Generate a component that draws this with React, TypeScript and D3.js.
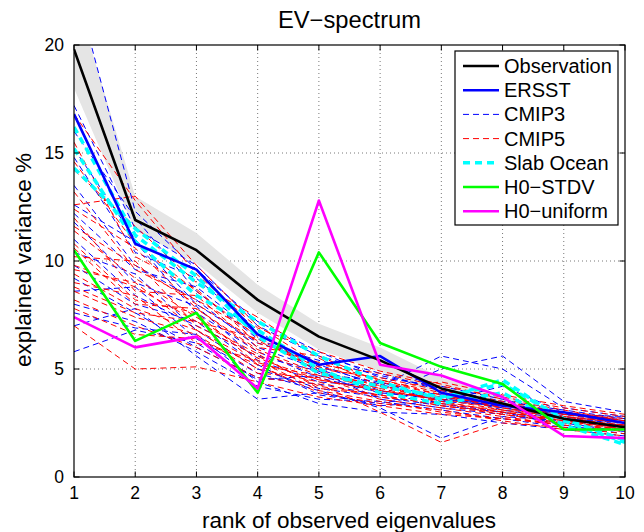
import * as d3 from 'd3';

// rank axis
const ranks = [1, 2, 3, 4, 5, 6, 7, 8, 9, 10];
const yTicks = [0, 5, 10, 15, 20];

const observation = [19.8, 11.9, 10.5, 8.2, 6.5, 5.4, 4.1, 3.4, 2.7, 2.3];
const obsUpper = [22.5, 13.0, 11.3, 8.9, 7.1, 6.0, 4.6, 3.8, 3.0, 2.6];
const obsLower = [18.0, 11.4, 9.9, 7.6, 5.9, 4.9, 3.7, 3.0, 2.5, 2.1];

const ersst = [16.8, 10.8, 9.6, 6.6, 5.2, 5.6, 3.9, 3.3, 3.0, 2.5];
const h0Stdv = [10.5, 6.3, 7.6, 3.9, 10.4, 6.2, 5.1, 4.3, 2.2, 2.2];
const h0Uniform = [7.4, 6.0, 6.5, 4.1, 12.8, 5.2, 4.7, 3.7, 1.9, 1.8];

const slabOcean = [
  [16.2, 11.2, 9.0, 7.2, 5.6, 4.4, 3.6, 4.5, 2.6, 1.6],
  [15.2, 10.9, 8.4, 6.8, 5.0, 3.9, 3.4, 3.9, 2.4, 1.5],
  [14.3, 11.5, 9.3, 6.5, 4.8, 4.2, 3.7, 4.3, 2.7, 1.7],
];

const cmip3 = [
  [23.0, 12.3, 9.6, 7.2, 5.8, 4.6, 4.2, 3.6, 2.9, 2.5],
  [17.2, 11.5, 9.8, 7.0, 5.6, 4.8, 4.0, 3.4, 3.0, 2.6],
  [16.0, 12.0, 8.6, 6.4, 5.2, 4.2, 3.8, 3.2, 2.8, 2.4],
  [14.8, 10.4, 9.2, 6.8, 4.8, 4.4, 3.6, 3.4, 2.7, 2.2],
  [13.5, 9.8, 8.2, 6.0, 5.0, 4.0, 3.4, 3.0, 2.6, 2.3],
  [12.6, 10.9, 7.6, 5.8, 4.6, 3.9, 3.6, 3.3, 2.9, 2.7],
  [11.8, 9.0, 7.9, 5.4, 4.4, 4.2, 5.6, 5.0, 3.2, 2.8],
  [11.0, 8.4, 7.0, 5.6, 4.9, 3.6, 3.2, 2.9, 2.5, 2.1],
  [10.4, 9.4, 6.8, 5.0, 4.1, 3.7, 3.3, 3.0, 2.4, 2.0],
  [9.8, 8.0, 7.2, 5.2, 3.8, 3.4, 3.9, 3.1, 2.7, 2.5],
  [9.2, 7.6, 6.0, 4.6, 4.3, 3.8, 5.0, 5.6, 3.5, 3.0],
  [8.6, 8.8, 6.4, 4.8, 4.0, 3.2, 1.8, 2.8, 2.6, 2.4],
  [8.0, 7.2, 5.8, 4.2, 3.6, 3.5, 3.1, 2.7, 2.3, 2.2],
  [7.6, 6.9, 6.6, 4.4, 3.4, 3.0, 2.9, 2.5, 2.2, 1.9],
  [7.0, 7.8, 5.6, 3.6, 3.9, 3.3, 3.5, 4.2, 3.0, 2.6],
  [5.8, 6.8, 6.2, 4.5, 4.7, 3.9, 3.7, 3.2, 2.9, 2.8],
  [15.2, 11.0, 8.0, 6.2, 5.4, 4.7, 4.1, 3.5, 3.1, 2.7],
  [12.2, 9.6, 8.8, 6.6, 5.1, 4.3, 3.5, 3.3, 2.8, 2.5],
];

const cmip5 = [
  [16.8, 12.8, 9.4, 6.9, 5.8, 4.9, 4.3, 3.6, 3.1, 2.6],
  [15.5, 10.2, 8.7, 6.2, 5.3, 4.5, 3.9, 3.4, 2.9, 2.5],
  [14.2, 11.6, 9.0, 7.4, 5.5, 4.2, 3.7, 3.3, 2.8, 2.3],
  [13.2, 9.6, 8.2, 6.6, 5.0, 4.6, 4.0, 3.5, 3.0, 2.7],
  [12.4, 10.6, 7.8, 5.9, 4.8, 4.1, 3.5, 3.0, 2.6, 2.4],
  [12.0, 8.6, 8.4, 6.0, 5.6, 4.4, 3.8, 3.2, 2.7, 2.2],
  [11.4, 9.2, 7.4, 5.5, 4.5, 4.0, 3.6, 3.1, 2.8, 2.5],
  [10.8, 8.2, 7.6, 5.2, 4.7, 4.3, 3.4, 2.9, 2.5, 2.3],
  [10.2, 10.0, 7.0, 5.6, 4.2, 3.8, 3.3, 3.0, 2.7, 2.4],
  [9.8, 8.8, 7.2, 6.4, 4.9, 3.9, 3.7, 3.4, 3.0, 2.6],
  [9.4, 7.8, 6.8, 5.0, 4.4, 3.6, 3.2, 2.8, 2.4, 2.1],
  [9.0, 8.4, 6.2, 5.4, 4.0, 3.5, 3.0, 2.7, 2.5, 2.2],
  [8.6, 7.4, 6.6, 4.8, 4.6, 3.7, 3.4, 3.1, 2.6, 2.3],
  [8.2, 7.0, 6.0, 4.6, 4.3, 3.0, 1.6, 2.5, 2.3, 2.0],
  [7.8, 6.6, 6.4, 5.2, 3.9, 3.4, 3.1, 2.6, 2.2, 1.9],
  [7.0, 5.0, 5.1, 4.4, 3.7, 3.3, 2.9, 2.7, 2.4, 2.2],
  [12.6, 13.0, 9.8, 7.0, 5.2, 4.8, 4.2, 3.7, 3.2, 2.8],
  [11.6, 9.8, 8.0, 6.3, 5.1, 4.5, 3.8, 3.3, 2.9, 2.6],
  [10.6, 8.0, 7.8, 5.8, 4.7, 4.1, 4.4, 3.8, 3.3, 2.9],
  [9.6, 9.0, 6.8, 5.3, 4.5, 4.0, 3.6, 3.2, 2.8, 2.5],
  [8.8, 7.6, 7.2, 5.7, 4.1, 3.8, 3.3, 2.9, 2.6, 2.4],
  [14.6, 10.8, 8.6, 6.5, 4.9, 4.2, 3.5, 3.0, 2.6, 2.2],
];

const legendItems = [
  { label: 'Observation', color: '#000000', width: 2.6, dash: null },
  { label: 'ERSST', color: '#0000ff', width: 2.6, dash: null },
  { label: 'CMIP3', color: '#0000ff', width: 1, dash: '6,4' },
  { label: 'CMIP5', color: '#ff0000', width: 1, dash: '6,4' },
  { label: 'Slab Ocean', color: '#00ffff', width: 3.5, dash: '7,5' },
  { label: 'H0\u2212STDV', color: '#00ff00', width: 2.6, dash: null },
  { label: 'H0\u2212uniform', color: '#ff00ff', width: 2.6, dash: null },
];

const FONT = '"Liberation Sans", Arial, Helvetica, sans-serif';

export default function App() {
  const W = 644;
  const H = 532;
  const m = { left: 74, right: 625, top: 45, bottom: 477 };

  const x = d3.scaleLinear().domain([1, 10]).range([m.left, m.right]);
  const y = d3.scaleLinear().domain([0, 20]).range([m.bottom, m.top]);

  const line = d3.line<number>()
    .x((_, i) => x(ranks[i]))
    .y(d => y(d));

  const band = d3.area<number>()
    .x((_, i) => x(ranks[i]))
    .y0((_, i) => y(obsLower[i]))
    .y1(d => y(d));

  const tickLen = 5.5;

  return (
    <svg width={W} height={H} style={{ position: 'absolute', left: 0, top: 0, background: '#fff' }}
      fontFamily={FONT}>
      <defs>
        <clipPath id="plot-clip">
          <rect x={m.left} y={m.top} width={m.right - m.left} height={m.bottom - m.top} />
        </clipPath>
      </defs>

      {/* grid */}
      <g stroke="#555" strokeWidth={0.8} strokeDasharray="1,3">
        {ranks.slice(1, -1).map(r => (
          <line key={'gx' + r} x1={x(r)} x2={x(r)} y1={m.top} y2={m.bottom} />
        ))}
        {yTicks.slice(1, -1).map(v => (
          <line key={'gy' + v} x1={m.left} x2={m.right} y1={y(v)} y2={y(v)} />
        ))}
      </g>

      <g clipPath="url(#plot-clip)" fill="none" strokeLinejoin="round">
        <path d={band(obsUpper) || ''} fill="#e5e5e5" stroke="none" />
        {cmip3.map((s, i) => (
          <path key={'c3' + i} d={line(s) || ''} stroke="#0000ff" strokeWidth={1} strokeDasharray="6,4" />
        ))}
        {cmip5.map((s, i) => (
          <path key={'c5' + i} d={line(s) || ''} stroke="#ff0000" strokeWidth={1} strokeDasharray="6,4" />
        ))}
        {slabOcean.map((s, i) => (
          <path key={'so' + i} d={line(s) || ''} stroke="#00ffff" strokeWidth={3.5} strokeDasharray="7,5" />
        ))}
        <path d={line(ersst) || ''} stroke="#0000ff" strokeWidth={2.6} />
        <path d={line(observation) || ''} stroke="#000000" strokeWidth={2.6} />
        <path d={line(h0Stdv) || ''} stroke="#00ff00" strokeWidth={2.6} />
        <path d={line(h0Uniform) || ''} stroke="#ff00ff" strokeWidth={2.6} />
      </g>

      {/* frame and inside ticks */}
      <rect x={m.left} y={m.top} width={m.right - m.left} height={m.bottom - m.top}
        fill="none" stroke="#000" strokeWidth={1.2} />
      <g stroke="#000" strokeWidth={1}>
        {ranks.map(r => (
          <g key={'tx' + r}>
            <line x1={x(r)} x2={x(r)} y1={m.bottom} y2={m.bottom - tickLen} />
            <line x1={x(r)} x2={x(r)} y1={m.top} y2={m.top + tickLen} />
          </g>
        ))}
        {yTicks.map(v => (
          <g key={'ty' + v}>
            <line x1={m.left} x2={m.left + tickLen} y1={y(v)} y2={y(v)} />
            <line x1={m.right} x2={m.right - tickLen} y1={y(v)} y2={y(v)} />
          </g>
        ))}
      </g>

      {/* tick labels */}
      <g fontSize={17.5} fill="#000">
        {ranks.map(r => (
          <text key={'lx' + r} x={x(r)} y={m.bottom + 22} textAnchor="middle">{r}</text>
        ))}
        {yTicks.map(v => (
          <text key={'ly' + v} x={m.left - 10} y={y(v) + 6} textAnchor="end">{v}</text>
        ))}
      </g>

      {/* titles */}
      <text x={(m.left + m.right) / 2} y={28} textAnchor="middle" fontSize={23}
        textLength={143} lengthAdjust="spacingAndGlyphs">EV{'\u2212'}spectrum</text>
      <text x={349} y={528} textAnchor="middle" fontSize={22.5}>rank of observed eigenvalues</text>
      <text transform={`translate(31,${260}) rotate(-90)`} textAnchor="middle" fontSize={22.5}
        textLength={214} lengthAdjust="spacingAndGlyphs">explained variance %</text>

      {/* legend */}
      <g>
        <rect x={455} y={51} width={163} height={174} fill="#fff" stroke="#000" strokeWidth={1.2} />
        {legendItems.map((it, i) => {
          const cy = 66 + i * 24.2;
          return (
            <g key={it.label}>
              <line x1={463} x2={499} y1={cy} y2={cy} stroke={it.color} strokeWidth={it.width}
                strokeDasharray={it.dash || undefined} />
              <text x={504} y={cy + 7} fontSize={20}>{it.label}</text>
            </g>
          );
        })}
      </g>
    </svg>
  );
}
